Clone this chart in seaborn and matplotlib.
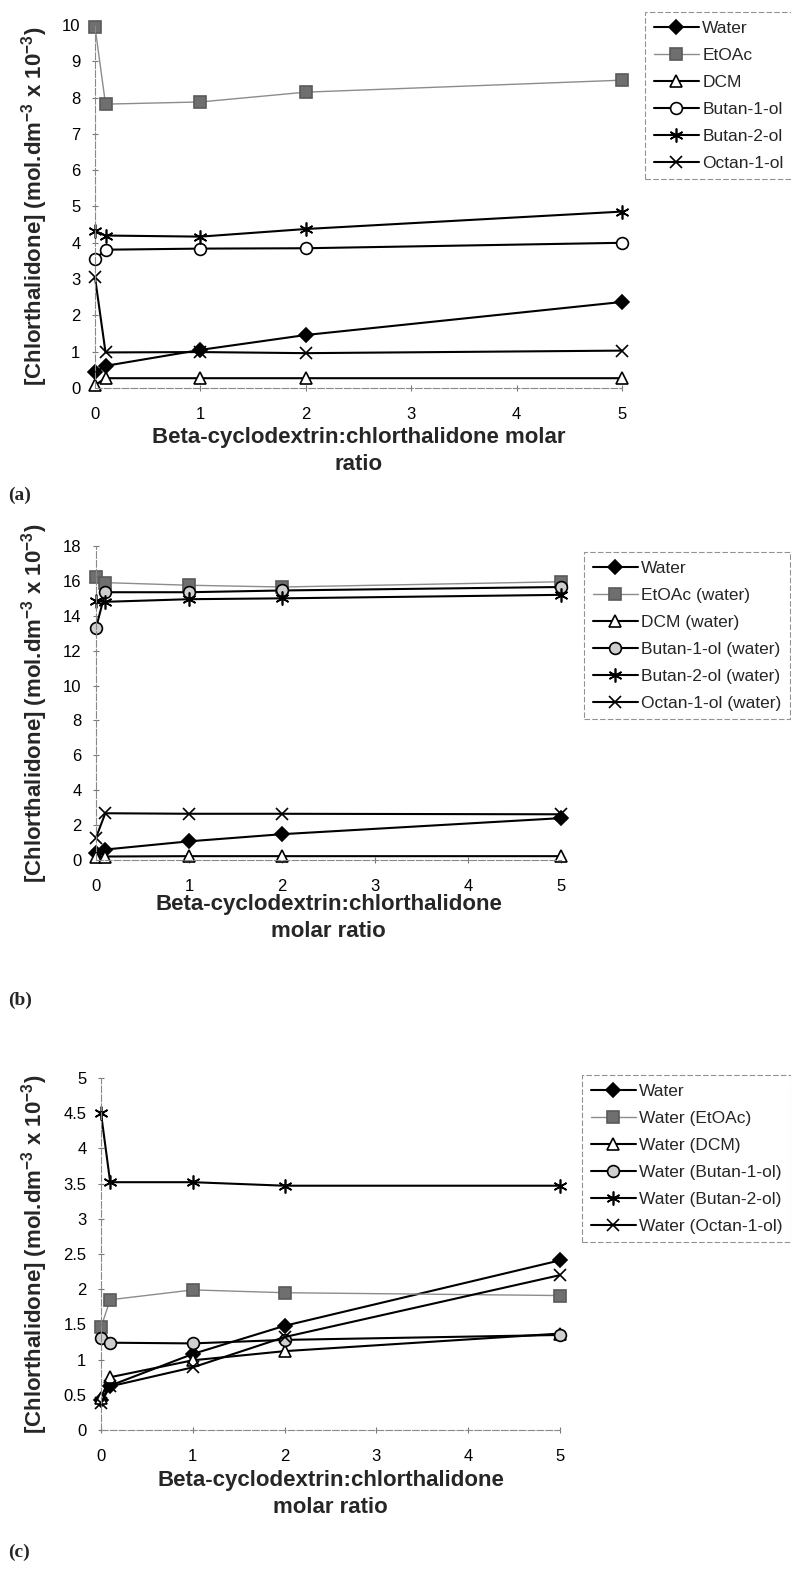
import seaborn as sns
import matplotlib.pyplot as plt
import matplotlib.ticker as ticker

sns.set_theme(style="white")
plt.rcParams['font.family'] = ['Liberation Sans', 'DejaVu Sans']
plt.rcParams['mathtext.fontset'] = 'custom'
plt.rcParams['mathtext.bf'] = 'Liberation Sans:bold'
plt.rcParams['mathtext.rm'] = 'Liberation Sans'
plt.rcParams['mathtext.default'] = 'bf'

#---------------------------------------------
#            DATOS
#---------------------------------------------
ratio = [0, 0.1, 1, 2, 5]

# (a) fase orgánica
water_a = [0.43, 0.61, 1.05, 1.46, 2.37]
etoac_a = [9.95, 7.82, 7.88, 8.15, 8.48]
dcm_a = [0.08, 0.27, 0.27, 0.27, 0.27]
but1_a = [3.54, 3.81, 3.84, 3.85, 4.00]
but2_a = [4.33, 4.20, 4.17, 4.38, 4.86]
oct_a = [3.05, 0.98, 0.99, 0.96, 1.03]
labels_a = ["Water", "EtOAc", "DCM", "Butan-1-ol", "Butan-2-ol", "Octan-1-ol"]

# (b) agua saturada con disolvente
water_b = [0.42, 0.60, 1.07, 1.48, 2.40]
etoac_b = [16.2, 15.9, 15.75, 15.65, 15.95]
dcm_b = [0.15, 0.20, 0.22, 0.22, 0.22]
but1_b = [13.3, 15.35, 15.35, 15.45, 15.65]
but2_b = [14.85, 14.8, 14.95, 15.0, 15.2]
oct_b = [1.28, 2.68, 2.65, 2.65, 2.62]
labels_b = ["Water", "EtOAc (water)", "DCM (water)", "Butan-1-ol (water)",
            "Butan-2-ol (water)", "Octan-1-ol (water)"]

# (c) fase acuosa
water_c = [0.42, 0.63, 1.08, 1.48, 2.41]
etoac_c = [1.46, 1.85, 1.99, 1.95, 1.91]
dcm_c = [0.46, 0.75, 0.99, 1.12, 1.37]
but1_c = [1.31, 1.24, 1.23, 1.28, 1.35]
but2_c = [4.50, 3.52, 3.52, 3.47, 3.47]
oct_c = [0.39, 0.62, 0.89, 1.32, 2.20]
labels_c = ["Water", "Water (EtOAc)", "Water (DCM)", "Water (Butan-1-ol)",
            "Water (Butan-2-ol)", "Water (Octan-1-ol)"]

#---------------------------------------------
#            FIGURA
#---------------------------------------------
W, H = 791, 1574
fig = plt.figure(figsize=(W / 100, H / 100), dpi=100)
fig.patch.set_facecolor("white")

ylabel = r"[Chlorthalidone] (mol.dm$^{-3}$ x 10$^{-3}$)"


def estilos(circulo):
    return [
        dict(marker="D", color="black", markerfacecolor="black", markeredgecolor="black", markersize=7.5, linewidth=1.5),
        dict(marker="s", color="#8c8c8c", markerfacecolor="#6f6f6f", markeredgecolor="#5a5a5a", markersize=8, linewidth=1.0),
        dict(marker="^", color="black", markerfacecolor="white", markeredgecolor="black", markersize=8.5, linewidth=1.5),
        dict(marker="o", color="black", markerfacecolor=circulo, markeredgecolor="black", markersize=8.5, linewidth=1.5),
        dict(marker=(6, 2, 0), color="black", markerfacecolor="black", markeredgecolor="black", markersize=10, linewidth=1.5),
        dict(marker="x", color="black", markerfacecolor="black", markeredgecolor="black", markersize=8.5, linewidth=1.5),
    ]


def panel(box, series, labels, ymax, ystep, xl, xlabel_top, leg_xy, circulo, letra, letra_y):
    left, right, top, bottom = box
    ax = fig.add_axes([left / W, 1 - bottom / H, (right - left) / W, (bottom - top) / H])
    for vals, lab, st in zip(series, labels, estilos(circulo)):
        sns.lineplot(x=ratio, y=vals, ax=ax, label=lab, markeredgewidth=1.2,
                     clip_on=False, **st)
    ax.set_xlim(0, 5)
    ax.set_ylim(0, ymax)
    ax.xaxis.set_major_locator(ticker.MultipleLocator(1))
    ax.yaxis.set_major_locator(ticker.MultipleLocator(ystep))
    ax.yaxis.set_major_formatter(ticker.FormatStrFormatter("%g"))
    sns.despine(ax=ax)
    for s in ["left", "bottom"]:
        ax.spines[s].set_color("#8a8a8a")
        ax.spines[s].set_linewidth(0.8)
        ax.spines[s].set_linestyle((0, (6, 2)))
    ax.tick_params(direction="inout", length=5, width=0.8, color="#777777", pad=8,
                   labelsize=12, left=True, bottom=True, labelcolor="black")
    ax.tick_params(axis="x", pad=11)
    ax.set_xlabel(xl, fontsize=16, fontweight="bold", linespacing=1.35)
    ax.set_ylabel(ylabel, fontsize=16, fontweight="bold")
    ax.xaxis.set_label_coords(0.5, -(xlabel_top - bottom) / (bottom - top))
    ax.yaxis.set_label_coords((50 - left) / (right - left), 0.5)
    leg = ax.legend(loc="upper left", bbox_to_anchor=(leg_xy[0] / W, 1 - leg_xy[1] / H),
                    bbox_transform=fig.transFigure, borderaxespad=0, frameon=True,
                    fancybox=False, edgecolor="#777777", fontsize=12.5, handlelength=2.6,
                    handletextpad=0.2, labelspacing=0.68, borderpad=0.5)
    leg.get_frame().set_linestyle((0, (5, 2)))
    leg.get_frame().set_linewidth(0.8)
    fig.text(8 / W, 1 - letra_y / H, letra, fontfamily="Liberation Serif",
             fontweight="bold", fontsize=14, va="center", ha="left")
    return ax


panel((95, 622, 25, 388), [water_a, etoac_a, dcm_a, but1_a, but2_a, oct_a], labels_a,
      10, 1, "Beta-cyclodextrin:chlorthalidone molar\nratio", 427, (645, 12), "white", "(a)", 495)

panel((96, 561, 546, 860), [water_b, etoac_b, dcm_b, but1_b, but2_b, oct_b], labels_b,
      18, 2, "Beta-cyclodextrin:chlorthalidone\nmolar ratio", 894, (584, 552), "#cfcfcf", "(b)", 1000)

panel((101, 560, 1078, 1430), [water_c, etoac_c, dcm_c, but1_c, but2_c, oct_c], labels_c,
      5, 0.5, "Beta-cyclodextrin:chlorthalidone\nmolar ratio", 1470, (582, 1075), "#cfcfcf", "(c)", 1552)

plt.savefig("out.png", dpi=100)
